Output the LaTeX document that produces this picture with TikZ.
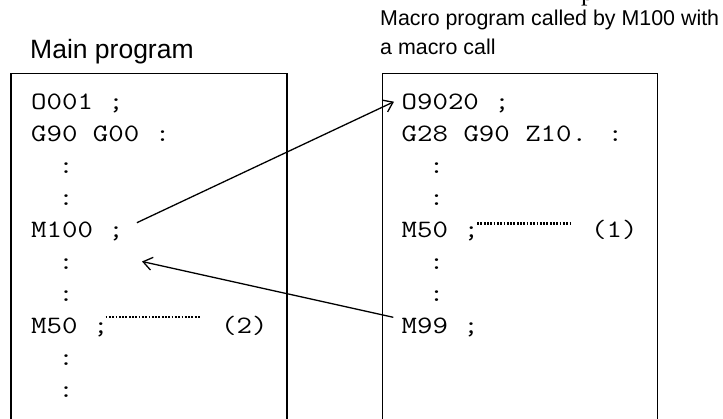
\documentclass[tikz,border=0pt]{standalone}
\usepackage{fontspec}
\usepackage{graphicx}
\usepackage{tikz}
\usetikzlibrary{arrows.meta,calc}
\newfontfamily\labelfont{Liberation Sans}
\newfontfamily\cutfont{Liberation Serif}
\newcommand{\cnc}[1]{\scalebox{1.2}[1]{#1}}
\tikzset{
  prgbox/.style={draw=black,line width=1.5pt},
  codeline/.style={anchor=base west,inner sep=0pt,
    font=\fontsize{25}{30}\selectfont\ttfamily},
  codedots/.style={anchor=base,inner sep=0pt,
    font=\fontsize{25}{30}\selectfont\ttfamily},
  headline/.style={anchor=base west,inner sep=0pt,
    font=\labelfont\fontsize{26.5}{32}\selectfont},
  subline/.style={anchor=base west,inner sep=0pt,align=left,
    font=\labelfont\fontsize{21.4}{29}\selectfont},
  callarrow/.style={-{Straight Barb[length=9pt,width=13pt]},line width=1.3pt},
  leader/.style={line width=2.2pt,dash pattern=on 1.8pt off 1.5pt},
}

\begin{document}
\begin{tikzpicture}[x=1pt,y=1pt]
  \useasboundingbox (0,0) rectangle (723,-419);
  \node[anchor=base west,inner sep=0pt,font=\cutfont\fontsize{26}{30}\selectfont] (cut) at (581,-1) {p};
  \node[headline] (maintitle) at (30,-59) {Main program};
  \node[subline] (macrotitle) at (380,-54.5) {Macro program called by M100 with\\a macro call};
  \draw[prgbox] (11,-425) |- (287,-73.3) -- (287,-425);
  \draw[prgbox] (382.3,-425) |- (657.3,-73.3) -- (657.3,-425);
  \node[codeline] (o001)  at (31,-110)    {\cnc{O001 ;}};
  \node[codeline] (g90)   at (31,-141.9)  {\cnc{G90 G00 :}};
  \node[codedots] (lc1)   at (66,-173.8)  {\cnc{:}};
  \node[codedots] (lc2)   at (66,-205.7)  {\cnc{:}};
  \node[codeline] (m100)  at (31,-237.6)  {\cnc{M100 ;}};
  \node[codedots] (lc3)   at (66,-269.5)  {\cnc{:}};
  \node[codedots] (lc4)   at (66,-301.4)  {\cnc{:}};
  \node[codeline] (m50a)  at (31,-333.3)  {\cnc{M50 ;}};
  \node[codeline] (lbl2)  at (221,-333.3) {\cnc{(2)}};
  \node[codedots] (lc5)   at (66,-365.2)  {\cnc{:}};
  \node[codedots] (lc6)   at (66,-397.1)  {\cnc{:}};
  \node[codeline] (o9020) at (401.5,-110)    {\cnc{O9020 ;}};
  \node[codeline] (g28)   at (401.5,-141.9)  {\cnc{G28 G90 Z10. :}};
  \node[codedots] (rc1)   at (436.7,-173.8)  {\cnc{:}};
  \node[codedots] (rc2)   at (436.7,-205.7)  {\cnc{:}};
  \node[codeline] (m50b)  at (401.5,-237.6)  {\cnc{M50 ;}};
  \node[codeline] (lbl1)  at (591,-237.6)    {\cnc{(1)}};
  \node[codedots] (rc3)   at (436.7,-269.5)  {\cnc{:}};
  \node[codedots] (rc4)   at (436.7,-301.4)  {\cnc{:}};
  \node[codeline] (m99)   at (401.5,-333.3)  {\cnc{M99 ;}};
  \coordinate (back) at ($(lc3.base)+(76,8)$);
  \draw[leader] ([xshift=-3pt,yshift=16pt]m50a.base east) -- ([xshift=-21pt,yshift=16pt]lbl2.base west);
  \draw[leader] ([xshift=-2pt,yshift=14pt]m50b.base east) -- ([xshift=-20pt,yshift=14pt]lbl1.base west);
  \draw[callarrow] ([xshift=12.8pt,yshift=14.9pt]m100.base east) -- ([xshift=-7.5pt,yshift=8.3pt]o9020.base west);
  \draw[callarrow] ([xshift=-8.2pt,yshift=16pt]m99.base west) -- (back);
\end{tikzpicture}
\end{document}
